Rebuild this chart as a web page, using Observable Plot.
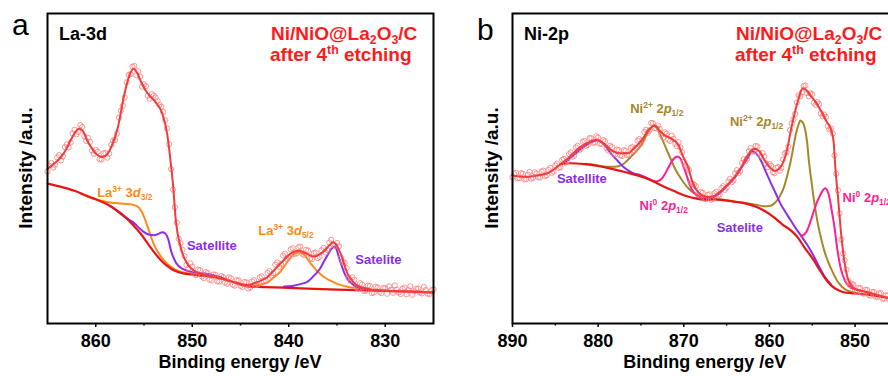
<!DOCTYPE html>
<html><head><meta charset="utf-8">
<script src="https://cdn.jsdelivr.net/npm/d3@7"></script>
<script src="https://cdn.jsdelivr.net/npm/@observablehq/plot@0.6"></script>
<style>
body{margin:0;width:888px;height:376px;overflow:hidden;position:relative;background:#fff;font-family:"Liberation Sans",Arial,sans-serif}
#pa,#pb{position:absolute;top:0}
#pa{left:0;width:444px}
#pb{left:444px;width:460px}
</style></head><body>
<div id="pa"></div><div id="pb"></div>
<script>
// ---------- Panel a : La-3d ----------
const ticksA = [860, 850, 840, 830];
const minorA = [855, 845, 835];
const scatterA_E = [
865.0,864.6,864.2,863.8,863.4,863.0,862.6,862.2,861.8,861.4,
861.0,860.6,860.2,859.8,859.4,859.0,858.6,858.2,857.8,857.4,
857.0,856.6,856.2,855.8,855.4,855.0,854.6,854.2,853.8,853.4,
853.0,852.6,852.2,851.8,851.4,851.0,850.6,850.2,849.8,849.4,
849.0,848.6,848.2,847.8,847.4,847.0,846.6,846.2,845.8,845.4,
845.0,844.6,844.2,843.8,843.4,843.0,842.6,842.2,841.8,841.4,
841.0,840.6,840.2,839.8,839.4,839.0,838.6,838.2,837.8,837.4,
837.0,836.6,836.2,835.8,835.4,835.0,834.6,834.2,833.8,833.4,
833.0,832.6,832.2,831.8,831.4,831.0,830.6,830.2,829.8,829.4,
829.0,828.6,828.2,827.8,827.4,827.0,826.6,826.2,825.8,825.4,
825.0];
const scatterA_I = [
49.0,51.8,51.2,54.3,53.9,57.8,58.4,62.5,61.8,63.4,
58.9,58.6,54.7,55.4,52.9,55.0,54.8,59.1,61.2,68.6,
72.9,80.2,82.8,80.1,79.6,77.2,73.5,74.0,72.9,70.5,
68.2,62.9,49.8,37.5,27.3,23.8,18.9,19.4,16.1,17.4,
15.2,16.6,14.1,15.8,13.6,15.3,13.2,14.9,12.5,14.0,
12.1,13.4,11.3,13.5,12.4,14.9,13.6,16.3,15.5,19.0,
18.3,21.9,20.8,23.9,22.4,24.6,22.5,23.8,20.9,22.7,
21.1,23.6,22.9,26.1,25.4,26.0,21.3,19.6,14.7,14.9,
11.6,13.0,10.5,12.2,9.8,11.9,10.2,11.5,9.6,10.9,
12.3,10.0,11.2,9.4,12.0,10.4,11.3,9.7,10.8,9.5,
11.0];
const scatterA2_E = [
864.8,864.4,864.0,863.6,863.2,862.8,862.4,862.0,861.6,861.2,
860.8,860.4,860.0,859.6,859.2,858.8,858.4,858.0,857.6,857.2,
856.8,856.4,856.0,855.6,855.2,854.8,854.4,854.0,853.6,853.2,
852.8,852.4,852.0,851.6,851.2,850.8,850.4,850.0,849.6,849.2,
848.8,848.4,848.0,847.6,847.2,846.8,846.4,846.0,845.6,845.2,
844.8,844.4,844.0,843.6,843.2,842.8,842.4,842.0,841.6,841.2,
840.8,840.4,840.0,839.6,839.2,838.8,838.4,838.0,837.6,837.2,
836.8,836.4,836.0,835.6,835.2,834.8,834.4,834.0,833.6,833.2,
832.8,832.4,832.0,831.6,831.2,830.8,830.4,830.0,829.6,829.2,
828.8,828.4,828.0,827.6,827.2,826.8,826.4,826.0,825.6,825.2];
const scatterA2_I = [
50.9,50.3,53.6,52.6,56.9,56.8,61.3,61.0,64.0,60.4,
59.9,55.8,56.0,53.0,54.9,53.5,57.6,59.2,66.4,70.2,
77.8,80.4,83.1,81.4,76.4,76.6,72.5,73.5,71.8,69.9,
65.6,57.8,43.2,32.5,25.9,21.7,17.8,18.4,15.6,17.2,
14.6,16.3,13.9,15.7,13.5,15.0,12.8,14.6,12.2,13.9,
11.8,13.3,11.6,14.0,12.6,15.2,13.9,16.9,16.2,19.7,
19.2,22.5,21.4,24.3,22.6,24.8,22.0,23.5,20.8,22.9,
21.5,24.4,23.7,27.0,25.0,24.9,19.8,17.9,13.8,14.1,
11.3,12.6,10.6,12.1,10.0,11.6,9.8,11.4,12.0,9.9,
10.9,9.5,11.6,10.8,9.3,11.2,10.0,11.8,9.6,10.7];
const envA = [[865,49.9],[864.3,51.6],[863.6,53.7],[863.1,56.0],[862.6,59.1],[862.1,61.8],[861.7,62.8],[861.3,62.0],[860.9,59.1],[860.4,56.5],[860,54.8],[859.3,53.7],[858.8,54.6],[858.4,56.9],[857.7,63.3],[857.1,73.0],[856.5,80.1],[856.1,82.2],[855.7,80.8],[855.3,77.9],[854.6,74.1],[853.8,71.4],[853.1,67.7],[852.6,61.2],[852.2,51.0],[852.0,45.0],[851.7,33.2],[851.2,24.6],[850.5,19.2],[849.8,17.0],[849.1,16.0],[847.0,14.4],[845.5,13.2],[844.3,12.4],[843.3,13.3],[842.2,15.0],[841.4,17.6],[840.5,20.5],[839.7,22.8],[838.9,23.5],[838.2,22.6],[837.4,21.6],[836.8,22.3],[836.3,23.5],[835.8,25.2],[835.4,26.2],[835,25.0],[834.6,22.4],[833.9,16.0],[833.3,13.3],[832.9,12.2],[832,11.3],[831.2,10.8],[828,10.4],[825,10.0]];
const bgA = [[865,45.1],[863.5,44.0],[862.2,42.8],[861,41.3],[859.5,39.4],[858.5,37.9],[857.5,35.6],[856.5,33.0],[856,31.3],[855.3,28.8],[854.5,25.3],[854,23.2],[853.3,20.6],[852.6,18.6],[851.8,17.0],[851,16.2],[849.8,15.7],[847,14.7],[844.3,12.0],[840,11.5],[835,10.9],[830,10.5],[825,10.0]];
const la32A = [[861.5,41.8],[860.5,40.5],[859.5,39.7],[858.5,39.0],[857.5,38.7],[856.5,38.5],[856,38.2],[855.5,37.3],[855,34.5],[854.6,31.0],[854,25.7],[853.4,22.3],[852.9,20.3],[851.9,17.6],[850.5,16.2],[849.1,15.7]];
const sat1A = [[858.5,37.9],[857.4,35.6],[856.6,33.6],[856,32.3],[855.5,30.8],[855,29.5],[854.5,28.7],[854,28.5],[853.5,28.9],[853.1,29.4],[852.8,29.0],[852.5,27.3],[852.2,23.5],[851.7,19.7],[851,17.6],[849.8,16.5],[848.4,16.0],[847,14.9]];
const la52A = [[844.3,12.0],[843,12.5],[842.2,13.3],[841.5,15.0],[840.8,17.0],[840.3,19.2],[839.8,21.3],[839.3,22.6],[838.9,22.9],[838.4,22.2],[837.7,19.2],[837,16.8],[836.3,14.9],[835.5,13.5],[834.9,12.7],[833.8,11.8],[832.9,11.4],[831.2,10.8],[829,10.4]];
const sat2A = [[840.5,11.9],[839.5,12.2],[838.8,12.7],[838,13.6],[837.4,15.4],[836.8,17.5],[836.3,20.3],[835.9,22.5],[835.6,24.0],[835.3,24.8],[835,23.5],[834.8,21.3],[834.5,18.5],[834.2,16.0],[833.7,13.6],[833.2,12.2],[832.5,11.3],[831.8,10.8],[830,10.5]];

// ---------- Panel b : Ni-2p ----------
const ticksB = [890, 880, 870, 860, 850];
const minorB = [885, 875, 865, 855];
const scatterB_E = [
890.0,889.6,889.2,888.8,888.4,888.0,887.6,887.2,886.8,886.4,
886.0,885.6,885.2,884.8,884.4,884.0,883.6,883.2,882.8,882.4,
882.0,881.6,881.2,880.8,880.4,880.0,879.6,879.2,878.8,878.4,
878.0,877.6,877.2,876.8,876.4,876.0,875.6,875.2,874.8,874.4,
874.0,873.6,873.2,872.8,872.4,872.0,871.6,871.2,870.8,870.4,
870.0,869.6,869.2,868.8,868.4,868.0,867.6,867.2,866.8,866.4,
866.0,865.6,865.2,864.8,864.4,864.0,863.6,863.2,862.8,862.4,
862.0,861.6,861.2,860.8,860.4,860.0,859.6,859.2,858.8,858.4,
858.0,857.6,857.2,856.8,856.4,856.0,855.6,855.2,854.8,854.4,
854.0,853.6,853.2,852.8,852.4,852.0,851.6,851.2,850.8,850.4,
850.0,849.6,849.2,848.8,848.4,848.0,847.6,847.2,846.8,846.4,
846.0];
const scatterB_I = [
47.2,48.6,46.9,48.3,46.6,48.9,47.0,48.4,47.1,49.3,
47.8,50.2,49.0,51.6,50.4,53.1,52.3,55.2,54.1,57.3,
56.4,58.9,57.6,59.8,58.4,60.0,57.9,58.8,55.8,56.9,
54.6,55.9,54.0,55.7,54.5,56.9,56.6,59.5,59.2,62.5,
62.3,64.6,62.9,62.8,59.9,61.2,58.9,59.6,57.2,56.8,
52.1,50.3,45.4,44.8,41.7,42.4,40.2,41.5,39.9,42.0,
41.3,43.7,43.1,45.8,45.6,48.5,48.5,51.8,52.3,55.6,
55.5,57.3,55.0,55.0,51.6,51.4,48.8,50.2,49.3,52.9,
55.2,62.4,65.8,71.3,73.3,76.6,74.3,74.3,71.2,71.4,
67.8,67.4,63.7,62.9,54.2,43.0,27.1,20.4,13.7,12.9,
10.5,11.5,9.9,10.9,9.2,10.1,8.6,9.7,8.0,9.1,
7.6];
const scatterB2_E = [
889.8,889.4,889.0,888.6,888.2,887.8,887.4,887.0,886.6,886.2,
885.8,885.4,885.0,884.6,884.2,883.8,883.4,883.0,882.6,882.2,
881.8,881.4,881.0,880.6,880.2,879.8,879.4,879.0,878.6,878.2,
877.8,877.4,877.0,876.6,876.2,875.8,875.4,875.0,874.6,874.2,
873.8,873.4,873.0,872.6,872.2,871.8,871.4,871.0,870.6,870.2,
869.8,869.4,869.0,868.6,868.2,867.8,867.4,867.0,866.6,866.2,
865.8,865.4,865.0,864.6,864.2,863.8,863.4,863.0,862.6,862.2,
861.8,861.4,861.0,860.6,860.2,859.8,859.4,859.0,858.6,858.2,
857.8,857.4,857.0,856.6,856.2,855.8,855.4,855.0,854.6,854.2,
853.8,853.4,853.0,852.6,852.2,851.8,851.4,851.0,850.6,850.2,
849.8,849.4,849.0,848.6,848.2,847.8,847.4,847.0,846.6,846.2];
const scatterB2_I = [
48.2,46.8,48.5,46.5,48.0,46.7,48.8,47.2,49.0,47.5,
49.6,48.6,51.0,50.2,52.8,51.9,54.6,53.8,56.8,55.9,
58.6,57.3,59.8,58.3,60.4,58.0,59.2,56.5,57.4,54.8,
56.1,54.2,55.9,54.3,56.6,55.8,59.0,58.1,61.8,61.5,
64.7,63.0,63.9,60.8,61.7,59.3,60.6,58.0,58.5,55.2,
51.0,49.5,45.1,44.3,41.3,42.2,40.1,41.7,40.2,42.5,
41.6,44.3,43.8,46.7,46.2,49.5,49.2,53.0,53.1,56.6,
55.5,57.1,54.0,53.9,50.4,50.9,48.5,50.5,50.2,54.9,
57.0,64.5,67.6,73.6,74.6,76.8,73.3,74.0,70.5,70.8,
66.9,66.6,62.6,61.3,48.3,35.5,22.6,17.3,12.4,12.5,
10.2,11.4,9.6,10.8,9.0,10.2,8.5,9.8,8.0,9.0];
const envB = [[890,47.7],[888.5,47.3],[887,47.8],[886,48.4],[885.2,49.6],[884.4,51.4],[883.5,53.3],[882.3,56.4],[881.2,58.3],[880.3,59.2],[880,59.1],[879.4,58.2],[878.4,55.8],[877.5,54.9],[876.5,54.9],[875.8,56.5],[874.9,59.1],[874.1,62.5],[873.4,63.9],[872.8,62.2],[872.2,60.6],[871.6,59.9],[871,58.8],[870.6,57.4],[870.1,54.0],[869.5,50.4],[868.9,45.0],[868.3,42.3],[867.6,41.1],[867.2,40.8],[866.5,41.1],[865.6,42.9],[865.2,43.9],[864.3,46.5],[863.3,50.4],[862.6,54.0],[862,56.0],[861.7,56.4],[861.2,55.6],[860.5,52.3],[859.9,50.2],[859.4,49.2],[858.9,49.8],[858.4,52.0],[857.9,56.5],[857.5,62.3],[857,68.5],[856.6,72.5],[856.1,75.9],[855.7,75.3],[855.2,73.5],[854.6,71.4],[853.9,68.2],[853.3,65.0],[852.8,62.5],[852.5,58.5],[852.3,50.0],[852.0,41.0],[851.7,31.0],[851.3,21.0],[850.9,15.0],[850.5,12.5],[849.8,10.9],[848.9,10.3],[847.5,9.3],[846.1,8.2],[845,7.8]];
const bgB = [[884.4,51.4],[883.2,51.7],[881.6,51.4],[880,50.8],[878.4,49.9],[876.8,48.8],[875.3,47.7],[873.9,46.3],[872.6,44.5],[871.2,42.8],[869.9,41.3],[868.5,40.3],[867.5,39.9],[866.5,40.0],[865.5,39.8],[864.5,39.5],[863.5,39.1],[862.6,38.6],[861.5,37.6],[860.5,36.2],[859.5,34.3],[858.5,32.0],[857.4,29.8],[856.7,27.8],[855.9,24.5],[854.8,20.3],[854.3,18.0],[853.5,14.6],[852.8,12.3],[852,10.8],[851.2,10.0],[850.5,9.8],[849.5,9.6],[848.5,9.3],[847.5,8.9],[846,8.2],[845,7.9]];
const sat1B = [[884.4,51.4],[883.5,52.8],[882.5,55.2],[881.5,57.3],[880.6,58.7],[880,59.1],[879.4,58.0],[878.5,54.8],[877.7,52.4],[877,50.4],[876,48.6],[875,47.8],[874.2,46.8],[873.5,45.9]];
const ni2p1B = [[881.5,51.5],[880,51.0],[879,50.6],[878,50.6],[877.2,51.2],[876.6,52.6],[876,54.3],[875.4,56.0],[875,57.4],[874.5,60.0],[874,62.4],[873.5,63.9],[873.1,62.8],[872.7,60.6],[872.3,58.0],[871.7,54.2],[871.1,50.4],[870.4,47.0],[869.6,44.0],[868.9,42.2],[868.4,41.3]];
const ni0p1B = [[873.5,45.9],[873,46.0],[872.6,46.6],[872.2,48.2],[871.8,50.3],[871.4,52.3],[871,53.6],[870.7,53.9],[870.4,53.2],[870,50.4],[869.6,47.2],[869.2,44.0],[868.8,42.2],[868.4,41.3],[867.8,40.4],[867.2,40.0]];
const ni2p2B = [[868.4,41.3],[867,40.6],[865.5,40.0],[864,39.3],[862.5,38.7],[861.4,38.2],[860.6,37.8],[860.0,37.9],[859.5,38.6],[859.1,39.7],[858.7,41.5],[858.3,44.0],[857.9,48.0],[857.5,52.6],[857.2,57.0],[856.9,61.2],[856.6,64.2],[856.4,65.5],[856.1,64.8],[855.9,63.4],[855.6,58.5],[855.4,52.6],[855.1,46.0],[854.8,39.7],[854.4,33.0],[854,27.8],[853.6,23.5],[853.2,20.3],[852.6,16.5],[852.1,13.8],[851.5,11.8],[850.9,10.6],[850,10.0]];
const sat2B = [[868.5,40.4],[867.5,40.3],[866.5,40.8],[865.7,42.3],[865,44.3],[864.3,46.3],[863.7,48.3],[863.1,51.0],[862.6,53.1],[862.2,55.0],[862,55.6],[861.6,55.0],[861,52.6],[860.4,48.8],[859.8,45.1],[859.2,41.6],[858.7,38.6],[858.1,35.8],[857.5,33.2],[856.9,30.6],[856.3,28.3],[855.5,25.0],[854.8,21.6],[854.2,18.3],[853.5,14.9],[852.8,12.6]];
const ni0p2B = [[856.3,28.3],[856,28.6],[855.6,30.0],[855.2,33.0],[854.8,36.4],[854.4,39.5],[854,41.8],[853.7,43.2],[853.5,43.6],[853.2,42.6],[853,40.7],[852.7,36.0],[852.4,31.0],[852.1,24.5],[851.7,18.1],[851.2,13.8],[850.5,11.6],[849.3,10.6],[848,9.5]];

// ---------- colours & labels ----------
const C = {fit:"#f23c3c", bg:"#e81414", pts:"#ff7a7a", orange:"#ff8a1c", purple:"#8a2ee8", brown:"#a8862b", pink:"#ff1f8f", title:"#ff1a1a"};
const FONT = '"Liberation Sans", Arial, sans-serif';
const titleL1 = [{t:"Ni/NiO@La"},{t:"2",sub:1},{t:"O"},{t:"3",sub:1},{t:"/C"}];
const titleL2 = [{t:"after 4"},{t:"th",sup:1},{t:" etching"}];
const xTitle = "Binding energy /eV";
const yTitle = "Intensity /a.u.";
const annA = [
  {e:859.8, v:40.6, c:C.orange, p:[{t:"La"},{t:"3+",sup:1},{t:" 3"},{t:"d",it:1},{t:"3/2",sub:1}]},
  {e:850.5, v:23.5, c:C.purple, p:[{t:"Satellite"}]},
  {e:843.1, v:28.3, c:C.orange, p:[{t:"La"},{t:"3+",sup:1},{t:" 3"},{t:"d",it:1},{t:"5/2",sub:1}]},
  {e:833.05, v:19.0, c:C.purple, p:[{t:"Satelite"}]}
];
const annB = [
  {e:876.2, v:67.8, c:C.brown, p:[{t:"Ni"},{t:"2+",sup:1},{t:" 2"},{t:"p",it:1},{t:"1/2",sub:1}]},
  {e:864.55, v:63.6, c:C.brown, p:[{t:"Ni"},{t:"2+",sup:1},{t:" 2"},{t:"p",it:1},{t:"1/2",sub:1}]},
  {e:884.75, v:45.2, c:C.purple, p:[{t:"Satellite"}]},
  {e:875.1, v:36.4, c:C.pink, p:[{t:"Ni"},{t:"0",sup:1},{t:" 2"},{t:"p",it:1},{t:"1/2",sub:1}]},
  {e:866.1, v:29.4, c:C.purple, p:[{t:"Satelite"}]},
  {e:851.4, v:39.1, c:C.pink, p:[{t:"Ni"},{t:"0",sup:1},{t:" 2"},{t:"p",it:1},{t:"1/2",sub:1}]}
];

function rich(svg, x, y, parts, o = {}) {
  const size = o.size || 13;
  const t = d3.select(svg).append("text")
    .attr("x", x).attr("y", y)
    .attr("font-family", FONT).attr("font-size", size)
    .attr("font-weight", o.weight || "bold")
    .attr("fill", o.fill || "#000")
    .attr("text-anchor", o.anchor || "start");
  if (o.rotate) t.attr("transform", `rotate(-90 ${x} ${y})`);
  let shift = 0;
  for (const p of parts) {
    const s = t.append("tspan").text(p.t);
    let target = 0;
    if (p.sup) { s.attr("font-size", size * 0.65); target = -size * 0.38; }
    else if (p.sub) { s.attr("font-size", size * 0.65); target = size * 0.22; }
    if (p.it) s.attr("font-style", "italic");
    if (target !== shift) { s.attr("dy", target - shift); shift = target; }
  }
  return t;
}

const line = (data, stroke, w = 2) => Plot.line(data, {x: d => d[0], y: d => d[1], stroke, strokeWidth: w, curve: "monotone-x"});

function panel(cfg) {
  const pts = cfg.sE.map((e, i) => ({e, v: cfg.sI[i]}));
  const plot = Plot.plot({
    width: cfg.width, height: 376,
    marginLeft: cfg.ml, marginRight: cfg.mr, marginTop: 13, marginBottom: 53,
    style: {fontFamily: FONT, color: "#000", background: "#fff", maxWidth: "none", overflow: "visible"},
    x: {domain: cfg.domain},
    y: {domain: [0, 100], axis: null},
    marks: [
      ...cfg.comps.map(c => line(c[0], c[1])),
      line(cfg.bg, C.bg, 2.2),
      Plot.dot(pts, {x: "e", y: "v", r: 2.6, stroke: C.pts, strokeWidth: 1, fill: "none", strokeOpacity: 0.8}),
      line(cfg.env, C.fit, 2),
      Plot.axisX(cfg.ticks, {tickSize: 4, tickPadding: 7, tickFormat: d => String(d), fontSize: 18, fontWeight: "bold", strokeWidth: 1.5, label: null}),
      Plot.axisX(cfg.minor, {tickSize: 2.5, tickFormat: () => "", strokeWidth: 1.5, label: null}),
      Plot.frame({stroke: "#000", strokeWidth: 2})
    ]
  });
  const sx = plot.scale("x"), sy = plot.scale("y");
  for (const a of cfg.ann) rich(plot, sx.apply(a.e), sy.apply(a.v), a.p, {size: 13, fill: a.c});
  rich(plot, cfg.letterX, cfg.letterY, [{t: cfg.letter}], {size: 30, weight: "normal"});
  rich(plot, cfg.nameX, 40, [{t: cfg.name}], {size: 18});
  rich(plot, cfg.titleX, 40, titleL1, {size: 19, fill: C.title});
  rich(plot, cfg.titleX - 1, 61, titleL2, {size: 19, fill: C.title});
  const cx = (sx.range[0] + sx.range[1]) / 2;
  rich(plot, cx, 368, [{t: xTitle}], {size: 18, anchor: "middle"});
  rich(plot, cfg.yLabX, 168, [{t: yTitle}], {size: 19, anchor: "middle", rotate: true});
  return plot;
}

document.getElementById("pa").append(panel({
  width: 444, ml: 47, mr: 11, domain: [865, 825], ticks: ticksA, minor: minorA,
  sE: scatterA_E.concat(scatterA2_E), sI: scatterA_I.concat(scatterA2_I), env: envA, bg: bgA,
  comps: [[la32A, C.orange], [sat1A, C.purple], [la52A, C.orange], [sat2A, C.purple]],
  ann: annA, letter: "a", letterX: 12, letterY: 35, name: "La-3d", nameX: 59, titleX: 271, yLabX: 32
}));
document.getElementById("pb").append(panel({
  width: 460, ml: 68, mr: 6.6, domain: [890, 845], ticks: ticksB, minor: minorB,
  sE: scatterB_E.concat(scatterB2_E), sI: scatterB_I.concat(scatterB2_I), env: envB, bg: bgB,
  comps: [[ni2p1B, C.brown], [ni2p2B, C.brown], [sat1B, C.purple], [sat2B, C.purple], [ni0p1B, C.pink], [ni0p2B, C.pink]],
  ann: annB, letter: "b", letterX: 33, letterY: 40, name: "Ni-2p", nameX: 80, titleX: 292, yLabX: 54
}));
</script>
</body></html>
